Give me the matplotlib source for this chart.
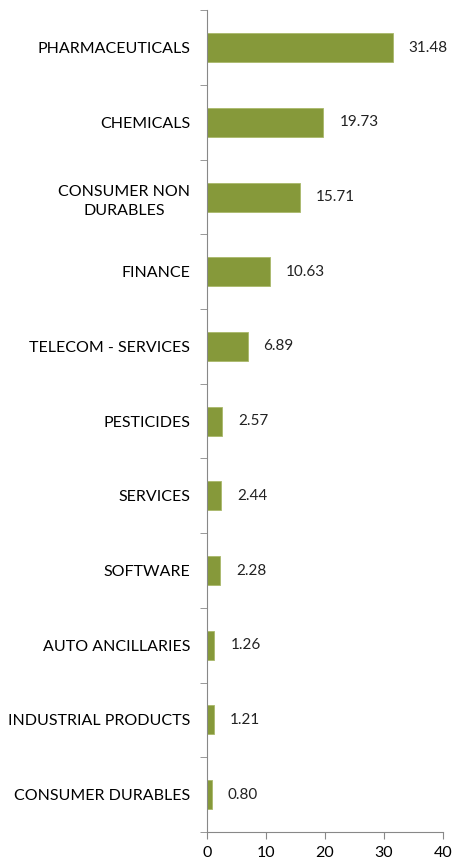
import matplotlib.pyplot as plt
import numpy as np

plt.rcParams['font.family'] = ['Lato', 'DejaVu Sans']

sectors = ["PHARMACEUTICALS", "CHEMICALS", "CONSUMER NON\nDURABLES", "FINANCE",
           "TELECOM - SERVICES", "PESTICIDES", "SERVICES", "SOFTWARE",
           "AUTO ANCILLARIES", "INDUSTRIAL PRODUCTS", "CONSUMER DURABLES"]
weights = [31.48, 19.73, 15.71, 10.63, 6.89, 2.57, 2.44, 2.28, 1.26, 1.21, 0.80]
x_ticks = [0, 10, 20, 30, 40]

fig = plt.figure(figsize=(4.53, 8.63), dpi=100)
ax = fig.add_axes([0.457, 0.036, 0.521, 0.952])

pos = np.arange(len(sectors))
ax.barh(pos, weights, height=0.39, color='#86993A', edgecolor='#A9B96A', linewidth=0.6)
for p, w in zip(pos, weights):
    ax.text(w + 2.7, p, f"{w:.2f}", va='center', ha='left', fontsize=11, color='#222222')

ax.set_ylim(len(sectors) - 0.5, -0.5)
ax.set_xlim(0, 40)
ax.set_xticks(x_ticks)
ax.set_xticklabels([str(t) for t in x_ticks], fontsize=11.5)

ax.set_yticks(pos)
ax.set_yticklabels(sectors, fontsize=11.5, ha='right', multialignment='center',
                   linespacing=1.45)
ax.tick_params(axis='y', length=0, pad=12)
ax.set_yticks(np.arange(-0.5, len(sectors) + 0.5, 1), minor=True)
ax.tick_params(axis='y', which='minor', length=5, color='#888888', direction='out')
ax.tick_params(axis='x', length=5, color='#888888', direction='out', pad=5)

for s in ['top', 'right']:
    ax.spines[s].set_visible(False)
for s in ['left', 'bottom']:
    ax.spines[s].set_color('#888888')

fig.savefig('out.png', dpi=100)
